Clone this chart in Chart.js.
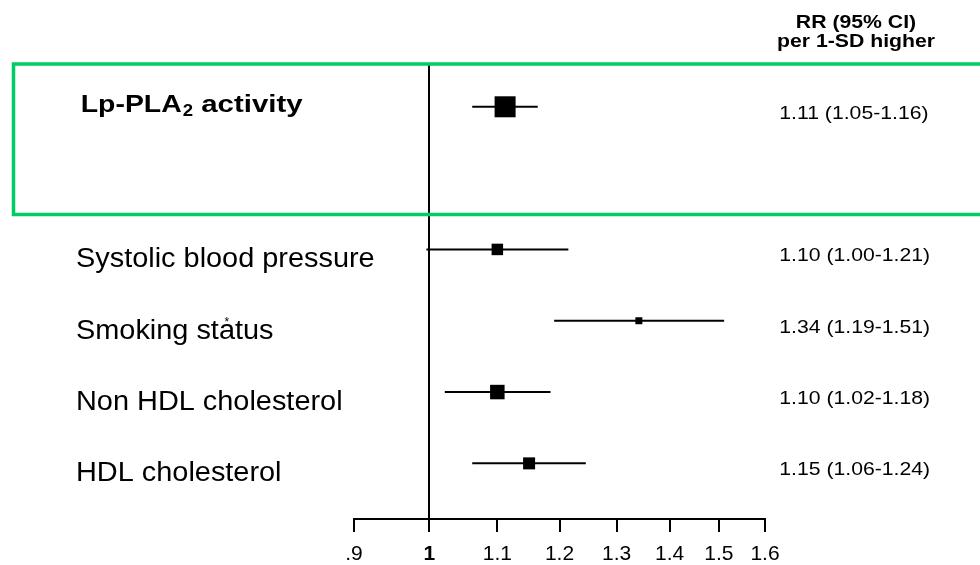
<!DOCTYPE html>
<html><head><meta charset="utf-8">
<script src="https://cdn.jsdelivr.net/npm/chart.js@4/dist/chart.umd.min.js"></script>
<style>html,body{margin:0;padding:0;background:#fff}#wrap{width:980px;height:565px}</style>
</head><body><div id="wrap"><canvas id="c" width="980" height="565"></canvas></div>
<script>
// ---- data ----
const categories = ['Lp-PLA2 activity', '', 'Systolic blood pressure', 'Smoking status', 'Non HDL cholesterol', 'HDL cholesterol'];
const rr     = [1.112, null, 1.100, 1.341, 1.100, 1.150];
const ciLow  = [1.062, null, 0.996, 1.191, 1.022, 1.062];
const ciHigh = [1.164, null, 1.215, 1.511, 1.185, 1.245];
const rrText = ['1.11 (1.05-1.16)', '', '1.10 (1.00-1.21)', '1.34 (1.19-1.51)', '1.10 (1.02-1.18)', '1.15 (1.06-1.24)'];
const tickValues = [0.9, 1, 1.1, 1.2, 1.3, 1.4, 1.5, 1.6];
const tickLabels = ['.9', '1', '1.1', '1.2', '1.3', '1.4', '1.5', '1.6'];
const headerLines = ['RR (95% CI)', 'per 1-SD higher'];
// ---- style ----
const boxSides = [21, null, 11.5, 7, 14.5, 12];
const FONT = '"Liberation Sans", Arial, Helvetica, sans-serif';
const GREEN = '#00cc66';

const idx = categories.map((c, i) => i).filter(i => rr[i] !== null);

const ciSets = idx.map(i => ({
  data: [{x: ciLow[i], y: i}, {x: ciHigh[i], y: i}],
  showLine: true, borderColor: '#000', borderWidth: 2, pointRadius: 0, pointHoverRadius: 0
}));
const pointSet = {
  data: idx.map(i => ({x: rr[i], y: i})),
  pointStyle: 'rect',
  pointRadius: idx.map(i => boxSides[i] / (2 * Math.SQRT1_2)),
  pointHoverRadius: idx.map(i => boxSides[i] / (2 * Math.SQRT1_2)),
  backgroundColor: '#000', borderWidth: 0, showLine: false
};

function txt(ctx, s, x, y, size, weight, stretch, align) {
  ctx.save();
  ctx.font = weight + ' ' + size + 'px ' + FONT;
  ctx.textBaseline = 'alphabetic';
  ctx.textAlign = 'left';
  ctx.fillStyle = '#000';
  const w = ctx.measureText(s).width * stretch;
  const x0 = align === 'center' ? x - w / 2 : x;
  ctx.translate(x0, y);
  ctx.scale(stretch, 1);
  ctx.fillText(s, 0, 0);
  ctx.restore();
  return w;
}

const decor = {
  id: 'decor',
  afterDraw(chart) {
    const ctx = chart.ctx, ys = chart.scales.y, area = chart.chartArea;
    // green highlight box
    ctx.save();
    ctx.strokeStyle = GREEN; ctx.lineWidth = 3.5;
    const top = area.top, bot = ys.getPixelForValue(1.51);
    ctx.beginPath();
    ctx.moveTo(chart.width + 10, top); ctx.lineTo(13.5, top); ctx.lineTo(13.5, bot); ctx.lineTo(chart.width + 10, bot);
    ctx.stroke();
    ctx.restore();
    // header
    txt(ctx, headerLines[0], 856, 27.7, 17.7, 'bold', 1.2, 'center');
    txt(ctx, headerLines[1], 856, 46.7, 17.7, 'bold', 1.2, 'center');
    categories.forEach((c, i) => {
      if (!c) return;
      const py = ys.getPixelForValue(i);
      if (i === 0) {
        let x = 80.7;
        x += txt(ctx, 'Lp-PLA', x, py + 5, 24.5, 'bold', 1.16);
        x += txt(ctx, '2', x + 1, py + 9, 16, 'bold', 1.16) + 1;
        txt(ctx, ' activity', x, py + 5, 24.5, 'bold', 1.2);
      } else {
        txt(ctx, c, 76, py + 18, 27, 'normal', 1.07);
        if (c === 'Smoking status') {
          ctx.save(); ctx.font = 'normal 27px ' + FONT;
          const wa = ctx.measureText('Smoking st').width * 1.07;
          const wb = ctx.measureText('a').width * 1.07;
          ctx.restore();
          txt(ctx, '*', 76 + wa + wb / 2, py + 5, 12, 'normal', 1.0, 'center');
        }
      }
      txt(ctx, rrText[i], 779.3, py + 12, 18.6, 'normal', 1.14);
    });
  }
};

new Chart(document.getElementById('c'), {
  type: 'scatter',
  data: { datasets: [pointSet, ...ciSets] },
  options: {
    responsive: false, animation: false, devicePixelRatio: 1,
    layout: { padding: { left: 354, right: 215, top: 64, bottom: -12 } },
    plugins: { legend: { display: false }, tooltip: { enabled: false } },
    scales: {
      x: {
        type: 'logarithmic', min: 0.9, max: 1.6, position: 'bottom',
        afterBuildTicks: s => { s.ticks = tickValues.map(v => ({ value: v })); },
        ticks: {
          autoSkip: false, maxRotation: 0, padding: 12, color: '#000',
          font: ctx => ({ family: FONT, size: 21, lineHeight: 1.0, weight: (ctx.tick && ctx.tick.value === 1) ? 'bold' : 'normal' }),
          callback: (v, i) => tickLabels[i]
        },
        grid: {
          drawOnChartArea: true, drawTicks: true, tickLength: 13,
          color: ctx => (ctx.tick && ctx.tick.value === 1) ? '#000' : 'rgba(0,0,0,0)',
          lineWidth: 2, tickColor: '#000', tickWidth: 2
        },
        border: { display: true, color: '#000', width: 2 }
      },
      y: { type: 'linear', min: -0.6, max: 5.78, reverse: true, display: false }
    }
  },
  plugins: [decor]
});
</script></body></html>
